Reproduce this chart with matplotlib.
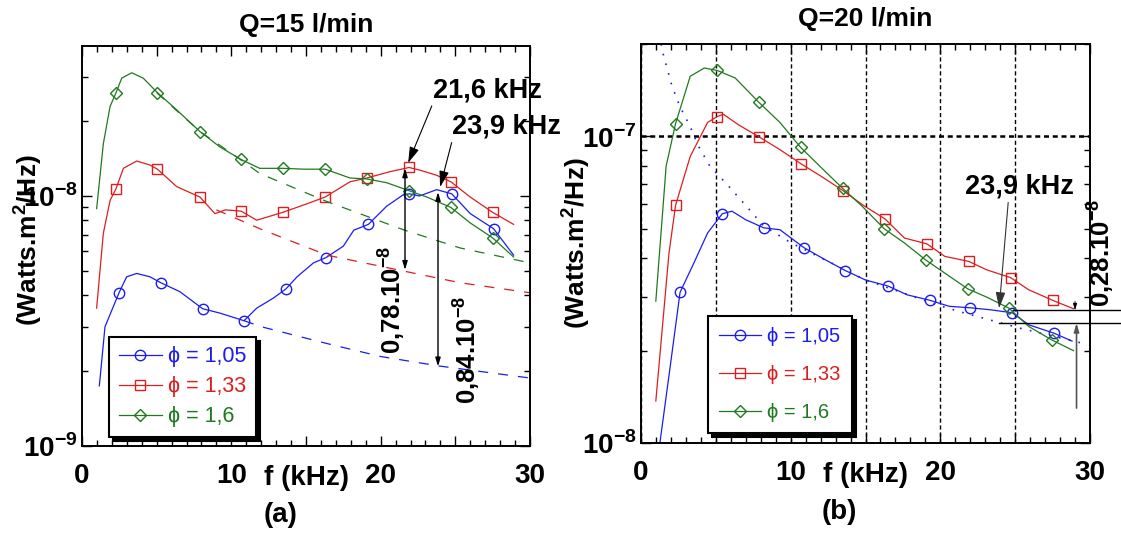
import numpy as np
import matplotlib
matplotlib.use('Agg')
import matplotlib.pyplot as plt
from matplotlib.ticker import MultipleLocator, FuncFormatter, LogLocator, NullFormatter
from matplotlib.lines import Line2D

plt.rcParams['font.family'] = ['Liberation Sans', 'DejaVu Sans']
plt.rcParams['font.weight'] = 'bold'
plt.rcParams['axes.titleweight'] = 'bold'
plt.rcParams['axes.labelweight'] = 'bold'
plt.rcParams['mathtext.fontset'] = 'custom'
plt.rcParams['mathtext.rm'] = 'Liberation Sans'
plt.rcParams['mathtext.bf'] = 'Liberation Sans:bold'

BLUE = '#1c1cf0'
RED = '#dc1e1e'
GREEN = '#1f7a1f'

labels = ['\u03d5 = 1,05', '\u03d5 = 1,33', '\u03d5 = 1,6']

# ---- (a) Q=15 l/min, values in 1e-8 W.m2/Hz ----
a_blue_f = [1.16, 1.54, 2.48, 2.99, 3.66, 4.55, 5.27, 6.56, 8.08, 9.24, 10.85, 11.7, 12.8, 13.66,
            14.4, 15.5, 16.34, 17.5, 18.2, 19.18, 20.4, 21.5, 21.92, 22.6, 23.75, 24.76, 26.0, 27.56, 28.9]
a_blue_y = [0.174, 0.30, 0.41, 0.475, 0.49, 0.475, 0.45, 0.414, 0.354, 0.34, 0.317, 0.356, 0.39, 0.425,
            0.475, 0.54, 0.567, 0.63, 0.73, 0.77, 0.91, 1.01, 1.02, 1.0, 1.06, 1.02, 0.85, 0.74, 0.58]
a_blue_mf = [2.48, 5.27, 8.08, 10.85, 13.66, 16.34, 19.18, 21.92, 24.76, 27.56]
a_blue_my = [0.41, 0.45, 0.354, 0.317, 0.425, 0.567, 0.77, 1.02, 1.02, 0.74]
a_blue_fit_f = [10.85, 12.0, 16.4, 20.0, 23.9, 30.0]
a_blue_fit_y = [0.317, 0.30, 0.257, 0.228, 0.209, 0.187]

a_red_f = [0.98, 1.43, 1.88, 2.28, 2.77, 3.66, 4.55, 5.05, 6.34, 7.9, 8.9, 9.6, 10.65, 11.7, 13.44,
           15.05, 16.28, 17.95, 19.07, 20.6, 21.9, 22.6, 23.75, 24.7, 26.0, 27.5, 28.9]
a_red_y = [0.356, 0.71, 0.96, 1.07, 1.29, 1.38, 1.33, 1.28, 1.09, 0.99, 0.85, 0.88, 0.87, 0.80, 0.86,
           0.93, 0.99, 1.14, 1.18, 1.25, 1.30, 1.27, 1.21, 1.14, 0.99, 0.86, 0.77]
a_red_mf = [2.28, 5.05, 7.9, 10.65, 13.44, 16.28, 19.07, 21.9, 24.7, 27.5]
a_red_my = [1.07, 1.28, 0.99, 0.87, 0.86, 0.99, 1.18, 1.30, 1.14, 0.86]
a_red_fit_f = [9.0, 11.9, 16.4, 21.6, 25.3, 30.0]
a_red_fit_y = [0.88, 0.74, 0.58, 0.50, 0.45, 0.41]

a_green_f = [0.98, 1.43, 1.88, 2.28, 2.66, 3.33, 4.1, 5.05, 6.34, 7.9, 9.24, 10.65, 11.9, 13.44,
             14.86, 16.28, 17.95, 19.07, 20.4, 21.9, 23.1, 24.7, 26.0, 27.5, 28.9]
a_green_y = [0.89, 1.62, 2.28, 2.59, 2.96, 3.11, 2.96, 2.59, 2.21, 1.81, 1.57, 1.40, 1.29, 1.29,
             1.28, 1.28, 1.18, 1.17, 1.13, 1.05, 0.99, 0.90, 0.78, 0.68, 0.57]
a_green_mf = [2.28, 5.05, 7.9, 10.65, 13.44, 16.28, 19.07, 21.9, 24.7, 27.5]
a_green_my = [2.59, 2.59, 1.81, 1.40, 1.29, 1.28, 1.17, 1.05, 0.90, 0.68]
a_green_fit_f = [5.0, 7.9, 10.6, 11.9, 16.4, 21.6, 25.3, 30.0]
a_green_fit_y = [2.59, 1.81, 1.40, 1.23, 0.95, 0.73, 0.62, 0.54]

# ---- (b) Q=20 l/min, values in 1e-7 W.m2/Hz ----
b_blue_f = [1.2, 1.92, 2.61, 3.53, 4.45, 5.43, 6.08, 6.98, 8.2, 9.28, 10.9, 12.3, 13.65, 15.0,
            16.5, 17.8, 19.3, 20.6, 22.0, 23.3, 24.8, 25.9, 27.6, 28.8]
b_blue_y = [0.095, 0.173, 0.31, 0.386, 0.484, 0.559, 0.57, 0.535, 0.503, 0.496, 0.433, 0.396, 0.365, 0.34,
            0.325, 0.304, 0.292, 0.279, 0.276, 0.272, 0.266, 0.243, 0.228, 0.215]
b_blue_mf = [2.61, 5.43, 8.2, 10.9, 13.65, 16.5, 19.3, 22.0, 24.8, 27.6]
b_blue_my = [0.31, 0.559, 0.503, 0.433, 0.365, 0.325, 0.292, 0.276, 0.266, 0.228]
b_blue_fit_f = [1.34, 1.49, 2.05, 2.6, 3.27, 3.83, 4.6, 5.83, 7.06, 8.2, 10.0, 15.0, 20.0, 21.3, 25.3, 29.4]
b_blue_fit_y = [2.0, 1.85, 1.47, 1.25, 1.08, 0.93, 0.80, 0.69, 0.59, 0.51, 0.45, 0.34, 0.28, 0.268, 0.237, 0.212]

b_red_f = [0.99, 1.87, 2.31, 3.29, 4.45, 5.1, 5.5, 6.52, 7.9, 9.28, 10.7, 12.05, 13.5, 14.8, 16.3,
           17.6, 19.1, 20.3, 21.9, 23.1, 24.7, 25.9, 27.5, 28.9]
b_red_y = [0.137, 0.416, 0.596, 0.86, 1.11, 1.16, 1.18, 1.09, 0.995, 0.905, 0.813, 0.74, 0.665, 0.598, 0.538,
           0.466, 0.446, 0.406, 0.391, 0.367, 0.346, 0.316, 0.292, 0.274]
b_red_mf = [2.31, 5.1, 7.9, 10.7, 13.5, 16.3, 19.1, 21.9, 24.7, 27.5]
b_red_my = [0.596, 1.16, 0.995, 0.813, 0.665, 0.538, 0.446, 0.391, 0.346, 0.292]

b_green_f = [0.99, 1.68, 2.31, 3.29, 4.23, 5.09, 6.29, 7.88, 9.28, 10.67, 12.05, 13.48, 14.8, 16.24,
             17.6, 19.03, 20.3, 21.84, 23.1, 24.6, 25.9, 27.43, 28.9]
b_green_y = [0.29, 0.80, 1.10, 1.57, 1.67, 1.64, 1.55, 1.29, 1.11, 0.92, 0.79, 0.676, 0.59, 0.50,
             0.449, 0.395, 0.358, 0.318, 0.299, 0.275, 0.24, 0.217, 0.20]
b_green_mf = [2.31, 5.09, 7.88, 10.67, 13.48, 16.24, 19.03, 21.84, 24.6, 27.43]
b_green_my = [1.10, 1.64, 1.29, 0.92, 0.676, 0.50, 0.395, 0.318, 0.275, 0.217]


def sc(vals, k):
    return np.array(vals) * k


fig = plt.figure(figsize=(11.21, 5.33), dpi=100)
axa = fig.add_axes([82 / 1121, 87 / 533, 448 / 1121, 400 / 533])
axb = fig.add_axes([641 / 1121, 90 / 533, 449 / 1121, 399 / 533])

lw = 0.9
ms = 7.5

# panel (a)
for f, y, mf, my, ff, fy, c, m in [
        (a_blue_f, a_blue_y, a_blue_mf, a_blue_my, a_blue_fit_f, a_blue_fit_y, BLUE, 'o'),
        (a_red_f, a_red_y, a_red_mf, a_red_my, a_red_fit_f, a_red_fit_y, RED, 's'),
        (a_green_f, a_green_y, a_green_mf, a_green_my, a_green_fit_f, a_green_fit_y, GREEN, 'D')]:
    axa.plot(ff, sc(fy, 1e-8), color=c, lw=0.9, ls=(0, (8, 8)))
    axa.plot(f, sc(y, 1e-8), color=c, lw=lw)
    axa.plot(mf, sc(my, 1e-8), ls='none', marker=m, mfc='none', mec=c, mew=1.0,
             ms=ms if m != 'D' else 6.5)

# panel (b)
axb.plot(b_blue_fit_f, sc(b_blue_fit_y, 1e-7), color=BLUE, lw=1.2, ls=(0, (1, 5)))
for f, y, mf, my, c, m in [
        (b_blue_f, b_blue_y, b_blue_mf, b_blue_my, BLUE, 'o'),
        (b_red_f, b_red_y, b_red_mf, b_red_my, RED, 's'),
        (b_green_f, b_green_y, b_green_mf, b_green_my, GREEN, 'D')]:
    axb.plot(f, sc(y, 1e-7), color=c, lw=lw)
    axb.plot(mf, sc(my, 1e-7), ls='none', marker=m, mfc='none', mec=c, mew=1.0,
             ms=ms if m != 'D' else 6.5)


def xfmt(v, p):
    return '%d' % round(v) if round(v) % 10 == 0 else ''


def yfmt(v, p):
    return '10$^{\\mathbf{%d}}$' % round(np.log10(v))


for ax in (axa, axb):
    ax.set_yscale('log')
    ax.set_xlim(0, 30)
    ax.xaxis.set_major_locator(MultipleLocator(5))
    ax.xaxis.set_minor_locator(MultipleLocator(1))
    ax.xaxis.set_major_formatter(FuncFormatter(xfmt))
    ax.yaxis.set_major_locator(LogLocator(base=10))
    ax.yaxis.set_minor_locator(LogLocator(base=10, subs=np.arange(2, 10)))
    ax.yaxis.set_minor_formatter(NullFormatter())
    ax.yaxis.set_major_formatter(FuncFormatter(yfmt))
    ax.tick_params(which='both', direction='in', top=True, right=True, width=1)
    ax.tick_params(which='major', length=7)
    ax.tick_params(which='minor', length=4)
    ax.tick_params(axis='x', pad=12, labelsize=20)
    ax.tick_params(axis='y', pad=3, labelsize=20)
    for s in ax.spines.values():
        s.set_linewidth(1.4)
    ax.text(15, -0.08, 'f (kHz)', transform=ax.get_xaxis_transform(),
            ha='center', va='center', fontsize=20)

axa.set_ylim(1e-9, 3.98e-8)
axb.set_ylim(1e-8, 2.0e-7)

# grid on (b)
axb.grid(axis='x', which='major', color='black', lw=1.0, ls=(0, (3, 2)))
axb.grid(axis='y', which='major', color='black', lw=1.8, ls=(0, (2, 1.5)))

axa.set_title('Q=15 l/min', fontsize=19, pad=10)
axb.set_title('Q=20 l/min', fontsize=19, pad=13)

axa.set_ylabel('(Watts.m$^{\\mathbf{2}}$/Hz)', fontsize=19, va='center')
axa.yaxis.set_label_coords(-0.122, 0.515)
axb.set_ylabel('(Watts.m$^{\\mathbf{2}}$/Hz)', fontsize=19, va='center')
axb.yaxis.set_label_coords(-0.146, 0.50)

fig.text(281 / 1121, 1 - 515 / 533, '(a)', ha='center', va='center', fontsize=20)
fig.text(839 / 1121, 1 - 512 / 533, '(b)', ha='center', va='center', fontsize=20)

# legends
colors = [BLUE, RED, GREEN]
markers = ['o', 's', 'D']
handles = [Line2D([], [], color=c, lw=lw, marker=m, mfc='none', mec=c, mew=1.0,
                  ms=ms if m != 'D' else 6.5) for c, m in zip(colors, markers)]

shadow = {'ox': 3, 'oy': -3, 'color': 'black', 'alpha': 1}
lega = axa.legend(handles, labels, loc='lower left', bbox_to_anchor=(0.060, 0.0225),
                  prop={'weight': 'normal', 'size': 15.5}, labelcolor='linecolor',
                  fancybox=False, framealpha=1, edgecolor='black', shadow=shadow,
                  handlelength=2.0, handletextpad=0.3, labelspacing=0.42, borderpad=0.45,
                  borderaxespad=0)
lega.get_frame().set_linewidth(1.5)
legb = axb.legend(handles, labels, loc='lower left', bbox_to_anchor=(0.149, 0.025),
                  prop={'weight': 'normal', 'size': 14.5}, labelcolor='linecolor',
                  fancybox=False, framealpha=1, edgecolor='black', shadow=shadow,
                  handlelength=2.1, handletextpad=0.3, labelspacing=0.95, borderpad=0.55,
                  borderaxespad=0)
legb.get_frame().set_linewidth(1.5)

# annotations (a)
head = '-|>,head_length=0.5,head_width=0.15'
arr = dict(arrowstyle=head, color='black', lw=0.8, shrinkA=0, shrinkB=0, relpos=(0, 0))
axa.annotate('21,6 kHz', xy=(21.84, 1.355e-8), xytext=(23.5, 2.65e-8),
             ha='left', va='center', fontsize=19.5, arrowprops=arr)
axa.annotate('23,9 kHz', xy=(23.98, 1.086e-8), xytext=(24.8, 1.89e-8),
             ha='left', va='center', fontsize=19.5, arrowprops=arr, annotation_clip=False)
darr = dict(arrowstyle='<|-|>,head_length=0.5,head_width=0.15', color='black', lw=1.0,
            shrinkA=0, shrinkB=0)
axa.annotate('', xy=(21.63, 0.506e-8), xytext=(21.63, 1.29e-8), arrowprops=darr)
axa.annotate('', xy=(23.84, 0.208e-8), xytext=(23.84, 1.037e-8), arrowprops=darr)
axa.text(20.7, 0.384e-8, '0,78.10$^{\\mathbf{-8}}$', rotation=90, ha='center', va='center',
         fontsize=18.5)
axa.text(25.7, 0.242e-8, '0,84.10$^{\\mathbf{-8}}$', rotation=90, ha='center', va='center',
         fontsize=18.5)

# annotations (b)
arrb = dict(arrowstyle=head, color='#333333', lw=0.8, shrinkA=0, shrinkB=0, relpos=(0.4, 0))
axb.annotate('23,9 kHz', xy=(23.93, 0.275e-7), xytext=(21.64, 0.685e-7),
             ha='left', va='center', fontsize=19.5, arrowprops=arrb)
axb.plot([24.85, 32.1], [0.271e-7, 0.271e-7], color='black', lw=1.0, clip_on=False)
axb.plot([23.9, 32.1], [0.246e-7, 0.246e-7], color='black', lw=1.0, clip_on=False)
axb.annotate('', xy=(29.1, 0.246e-7), xytext=(29.1, 0.13e-7),
             arrowprops=dict(arrowstyle=head, color='#555555', lw=1.2, shrinkA=0, shrinkB=0))
axb.annotate('', xy=(29.0, 0.271e-7), xytext=(29.0, 0.29e-7),
             arrowprops=dict(arrowstyle='-|>,head_length=0.4,head_width=0.12', color='black',
                             lw=0.6, shrinkA=0, shrinkB=0))
axb.text(30.66, 0.417e-7, '0,28.10$^{\\mathbf{-8}}$', rotation=90, ha='center', va='center',
         fontsize=18.5, clip_on=False)

fig.savefig('out.png', dpi=100)
